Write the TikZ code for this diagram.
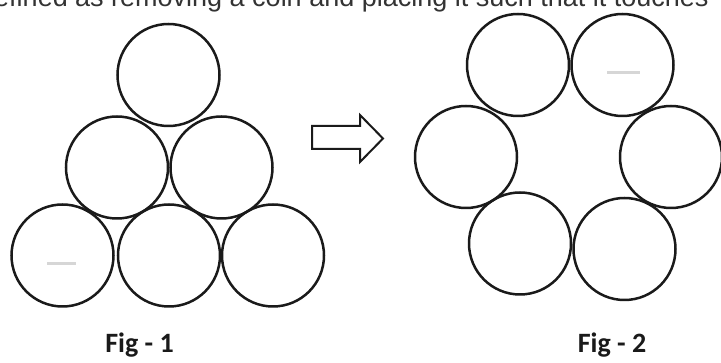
\documentclass[tikz,border=0pt]{standalone}
\usepackage{fontspec}
\setmainfont{Carlito}
\newfontfamily\arialfont{Liberation Sans}
\definecolor{ink}{HTML}{1A1A1A}
\definecolor{txt}{HTML}{333333}
\definecolor{smudge}{HTML}{D6D6D6}
\begin{document}
\begin{tikzpicture}[x=1pt,y=-1pt,
  coin/.style={circle,draw=ink,line width=2.5pt,minimum size=102pt,inner sep=0pt},
  figlabel/.style={font=\bfseries\fontsize{28}{30}\selectfont,text=ink,inner sep=0pt,anchor=base},
  toptext/.style={font=\arialfont\fontsize{27}{30}\selectfont,text=txt,inner sep=0pt},
  blockarrow/.style={draw=ink,line width=2pt,fill=white,line join=miter},
  smudgeline/.style={draw=smudge,line width=3pt}]
\clip (0,0) rectangle (721,363);
\fill[white] (0,0) rectangle (721,363);
% cut-off text line at the top
\node[toptext,anchor=base east] (t0) at (68,6.2) {defined};
\node[toptext,anchor=base west] (t1) at (75,6.2) {as removing a coin and placing it such that it touches};
% Fig 1
\node[coin] (f1a) at (168.5,75) {};
\node[coin] (f1b) at (117,167.5) {};
\node[coin] (f1c) at (221.5,167.5) {};
\node[coin] (f1d) at (62.5,255.5) {};
\node[coin] (f1e) at (169,255.5) {};
\node[coin] (f1f) at (273,255.5) {};
\draw[smudgeline] (47,263.5) -- (76,263.5);
% arrow
\draw[blockarrow] (312,126) -- (360,126) -- (360,115) -- (383,138.5) -- (360,162) -- (360,149) -- (312,149) -- cycle;
% Fig 2
\node[coin] (f2a) at (518,65) {};
\node[coin] (f2b) at (622.5,65) {};
\node[coin] (f2c) at (466,157) {};
\node[coin] (f2d) at (671,157) {};
\node[coin] (f2e) at (520,243.5) {};
\node[coin] (f2f) at (624.5,249) {};
\draw[smudgeline] (607,73) -- (640,73);
% labels
\node[figlabel] (l1) at (139.5,353) {Fig - 1};
\node[figlabel] (l2) at (612,353) {Fig - 2};
\end{tikzpicture}
\end{document}
